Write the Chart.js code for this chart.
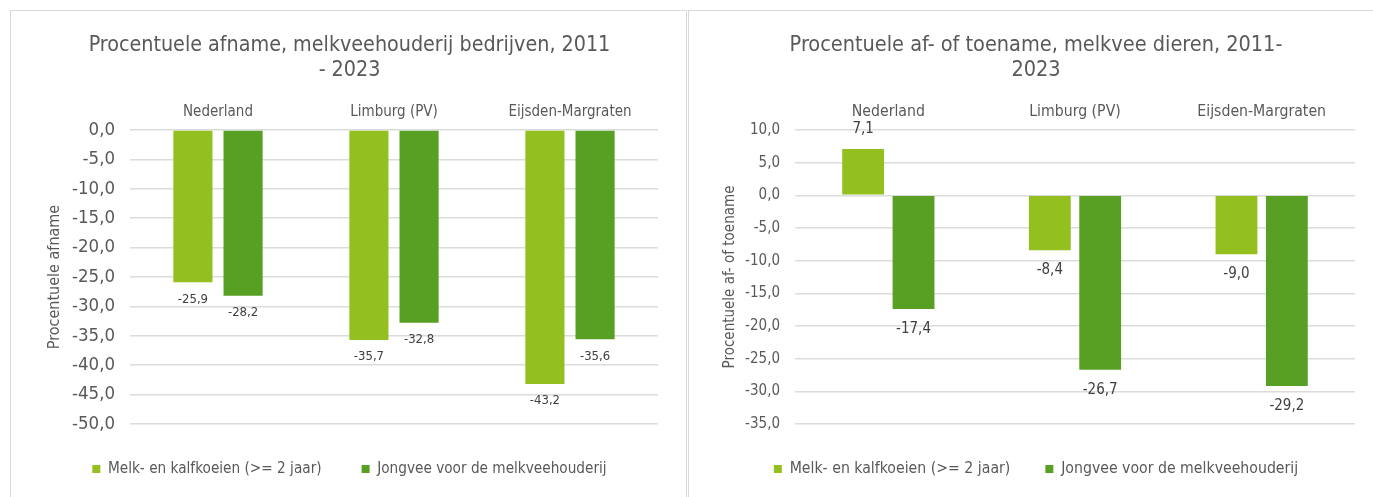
<!DOCTYPE html>
<html>
<head>
<meta charset="utf-8">
<script src="https://cdn.jsdelivr.net/npm/chart.js@4.4.1/dist/chart.umd.min.js"></script>
<style>
  html, body { margin: 0; padding: 0; background: #fff; width: 1373px; height: 497px; overflow: hidden; }
  .panel { position: absolute; top: 10px; height: 500px; border: 1px solid #d9d9d9; box-sizing: border-box; background: #fff; }
  #p1 { left: 10px; width: 677px; }
  #p2 { left: 688px; width: 700px; }
  .panel canvas { position: absolute; left: 0; top: 0; }
</style>
</head>
<body>
<div class="panel" id="p1"><canvas id="c1" width="675" height="486"></canvas></div>
<div class="panel" id="p2"><canvas id="c2" width="684" height="486"></canvas></div>
<script>
// ---------------- data ----------------
const categories = ['Nederland', 'Limburg (PV)', 'Eijsden-Margraten'];
const seriesNames = ['Melk- en kalfkoeien (>= 2 jaar)', 'Jongvee voor de melkveehouderij'];

const bedrijvenMelkKalf = [-25.9, -35.7, -43.2];
const bedrijvenJongvee = [-28.2, -32.8, -35.6];

const dierenMelkKalf = [7.1, -8.4, -9.0];
const dierenJongvee = [-17.4, -26.7, -29.2];

const titleBedrijven = ['Procentuele afname, melkveehouderij bedrijven, 2011', '- 2023'];
const titleDieren = ['Procentuele af- of toename, melkvee dieren, 2011-', '2023'];
const yTitleBedrijven = 'Procentuele afname';
const yTitleDieren = 'Procentuele af- of toename';
const yRangeBedrijven = [-50, 0];
const yRangeDieren = [-35, 10];
const yStep = 5;

// ---------------- style ----------------
const FONT = "'DejaVu Sans Condensed', 'DejaVu Sans', sans-serif";
const TEXT = '#595959';
const LIGHT = '#93c01f';
const DARK = '#57a024';
const GRID = '#dcdcdc';

const fmt = v => v.toFixed(1).replace('.', ',');

const valueLabels = {
  id: 'valueLabels',
  afterDatasetsDraw(chart, args, opts) {
    const ctx = chart.ctx;
    ctx.save();
    ctx.font = opts.size + 'px ' + FONT;
    ctx.fillStyle = opts.color;
    ctx.textAlign = 'center';
    ctx.textBaseline = 'middle';
    chart.data.datasets.forEach((ds, i) => {
      const meta = chart.getDatasetMeta(i);
      meta.data.forEach((el, j) => {
        const v = ds.data[j];
        const y = v >= 0 ? el.y - opts.offset : el.y + opts.offset;
        ctx.fillText(fmt(v), el.x, y);
      });
    });
    ctx.restore();
  }
};

const legendPlace = {
  id: 'legendPlace',
  beforeLayout(chart, args, opts) {
    const lg = chart.legend;
    if (lg && !lg._patched) {
      const fit = lg.fit;
      lg.fit = function () { fit.call(this); this.height = opts.boxH; };
      lg._patched = true;
    }
  },
  afterLayout(chart, args, opts) {
    const lg = chart.legend;
    if (!lg) return;
    const pad = lg.options.labels.padding;
    const fs = lg.options.labels.font.size;
    lg.top = opts.center - pad - fs / 2;
    lg.bottom = lg.top + lg.height;
  }
};

function makeChart(id, title, yTitle, a, b, range, cfg) {
  return new Chart(document.getElementById(id), {
    type: 'bar',
    data: {
      labels: categories,
      datasets: [
        { label: seriesNames[0], data: a, backgroundColor: LIGHT, borderWidth: 0,
          categoryPercentage: cfg.catPct, barPercentage: cfg.barPct },
        { label: seriesNames[1], data: b, backgroundColor: DARK, borderWidth: 0,
          categoryPercentage: cfg.catPct, barPercentage: cfg.barPct }
      ]
    },
    options: {
      responsive: false,
      animation: false,
      layout: { padding: { left: cfg.padLeft, right: cfg.padRight, top: 0, bottom: 0 } },
      scales: {
        x: {
          position: 'top',
          grid: { display: false, drawTicks: false },
          border: { display: false },
          ticks: { color: TEXT, font: { family: FONT, size: cfg.catSize }, padding: 9 },
          afterFit(s) { s.height = cfg.xAxisH; }
        },
        y: {
          min: range[0], max: range[1],
          grid: { color: GRID, lineWidth: 1.5, drawTicks: false },
          border: { display: false },
          ticks: { stepSize: yStep, color: TEXT, font: { family: FONT, size: cfg.tickSize }, padding: cfg.tickPad,
                   callback: v => fmt(v) },
          title: { display: true, text: yTitle, color: TEXT, font: { family: FONT, size: cfg.yTitleSize },
                   padding: { top: cfg.yTitlePad, bottom: 0 } },
          afterFit(s) { s.width = cfg.yAxisW; }
        }
      },
      plugins: {
        title: {
          display: true, text: title, color: TEXT,
          font: { family: FONT, size: cfg.titleSize, weight: 'normal', lineHeight: 25 / cfg.titleSize },
          padding: { top: 21.5, bottom: 0 }
        },
        legend: {
          position: 'bottom',
          labels: { color: TEXT, font: { family: FONT, size: cfg.legendSize }, boxWidth: 8, boxHeight: 8,
                    padding: cfg.legendPad }
        },
        tooltip: { enabled: false },
        valueLabels: { size: cfg.labelSize, offset: cfg.labelOffset, color: '#404040' },
        legendPlace: { boxH: 73, center: 458 }
      }
    },
    plugins: [valueLabels, legendPlace]
  });
}

makeChart('c1', titleBedrijven, yTitleBedrijven, bedrijvenMelkKalf, bedrijvenJongvee, yRangeBedrijven, {
  catPct: 0.57, barPct: 0.78, padLeft: 30, padRight: 28, yAxisW: 89, tickPad: 15, yTitlePad: 4,
  xAxisH: 47.5, legendPad: 40, labelSize: 13, labelOffset: 17,
  titleSize: 21.3, catSize: 15, tickSize: 18.5, yTitleSize: 16, legendSize: 15.2
});
makeChart('c2', titleDieren, yTitleDieren, dierenMelkKalf, dierenJongvee, yRangeDieren, {
  catPct: 0.54, barPct: 0.83, padLeft: 28, padRight: 18, yAxisW: 78, tickPad: 15, yTitlePad: 4,
  xAxisH: 47.5, legendPad: 35, labelSize: 15, labelOffset: 20,
  titleSize: 21.5, catSize: 15.7, tickSize: 15, yTitleSize: 15, legendSize: 15.7
});
</script>
</body>
</html>
